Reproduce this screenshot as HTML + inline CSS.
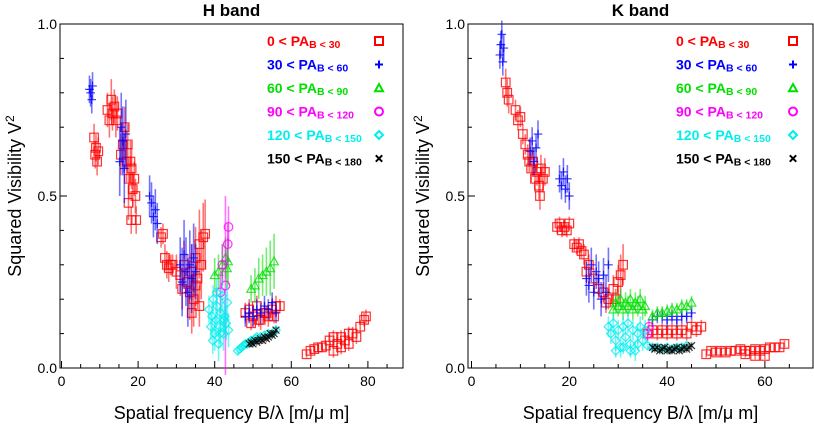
<!DOCTYPE html>
<html><head><meta charset="utf-8">
<style>
html,body{margin:0;padding:0;background:#fff;}
svg{display:block;font-family:"Liberation Sans",sans-serif;}
</style></head>
<body>
<svg id="chart" width="814" height="429" viewBox="0 0 814 429" xmlns="http://www.w3.org/2000/svg"></svg>
<script>
// ---- Data (x = spatial frequency, y = V^2, e = error) ----
// H band
const hRedX=[8.5,8.8,9,9.3,9.6,12,12.5,13,13.3,13.8,14.2,14.6,15.5,16,16.5,17,17.3,17.6,18,18.3,18.6,19,19.3,17.5,18.2,19.5,26,26.5,27,27.5,28,28.5,29,30,31,31.5,32,33,33.5,34,34.5,35,35.5,36,36.5,37,37.5,34,35,36,48,49,50,51,52,53,54,55,56,57,49.5,51.5,53.5,55.5,64,65,66,67,68,69,70,71,72,73,74,75,76,77,78,79,79.5,71,73,75];
const hRedY=[0.67,0.62,0.64,0.6,0.63,0.75,0.72,0.78,0.74,0.76,0.72,0.74,0.62,0.65,0.7,0.6,0.65,0.55,0.6,0.58,0.52,0.55,0.5,0.48,0.43,0.43,0.38,0.39,0.32,0.3,0.29,0.3,0.3,0.28,0.27,0.23,0.3,0.25,0.22,0.28,0.2,0.32,0.26,0.36,0.3,0.38,0.39,0.16,0.24,0.18,0.16,0.17,0.15,0.18,0.14,0.16,0.15,0.17,0.18,0.18,0.13,0.14,0.16,0.15,0.04,0.05,0.055,0.06,0.06,0.065,0.08,0.09,0.07,0.09,0.08,0.1,0.1,0.09,0.12,0.14,0.15,0.05,0.06,0.07];
const hRedE=[0.04,0.04,0.04,0.04,0.04,0.05,0.05,0.06,0.05,0.05,0.05,0.05,0.06,0.06,0.06,0.06,0.06,0.06,0.06,0.06,0.05,0.05,0.05,0.05,0.04,0.04,0.03,0.03,0.04,0.04,0.04,0.03,0.03,0.05,0.06,0.06,0.07,0.08,0.08,0.08,0.08,0.09,0.09,0.1,0.1,0.1,0.1,0.06,0.06,0.06,0.03,0.03,0.03,0.03,0.03,0.03,0.03,0.03,0.03,0.02,0.02,0.02,0.02,0.02,0.01,0.01,0.01,0.01,0.01,0.015,0.02,0.02,0.02,0.02,0.02,0.02,0.02,0.02,0.02,0.02,0.02,0.02,0.02,0.02];
const hBlueX=[7.3,7.6,7.9,8.1,15.2,15.6,16,16.4,16.8,23,23.5,24,24.5,25,31,31.5,32,32.5,33,33.5,34,34.5,35,48,49,50,51,52,53,54,55,56];
const hBlueY=[0.81,0.8,0.78,0.82,0.6,0.7,0.66,0.58,0.68,0.5,0.48,0.44,0.46,0.42,0.3,0.25,0.33,0.28,0.22,0.3,0.26,0.32,0.28,0.15,0.16,0.15,0.17,0.16,0.18,0.17,0.19,0.16];
const hBlueE=[0.04,0.04,0.04,0.04,0.1,0.1,0.1,0.1,0.1,0.06,0.06,0.06,0.06,0.06,0.08,0.1,0.1,0.1,0.1,0.1,0.1,0.1,0.08,0.03,0.03,0.03,0.03,0.03,0.03,0.03,0.03,0.03];
const hGreenX=[40,41,42,42.8,43.2,43.5,49.5,50.5,51.5,52.5,53.5,54.5,55.5];
const hGreenY=[0.27,0.28,0.3,0.32,0.29,0.31,0.23,0.24,0.26,0.27,0.28,0.29,0.31];
const hGreenE=[0.05,0.05,0.06,0.06,0.06,0.07,0.04,0.05,0.06,0.06,0.07,0.08,0.08];
const hMagX=[41.5,42,42.8,43.4,43.6];
const hMagY=[0.22,0.3,0.24,0.36,0.41];
const hMagE=[0.06,0.06,0.26,0.06,0.06];
const hCyanX=[38.5,39,39.3,39.6,40,40.3,40.6,41,41.3,41.6,42,42.3,42.6,43,43.3,43.6,39.5,40.5,41.5,42.5,46,46.5,47,47.5,48,48.5,49,49.5,50,50.5,51,52,53,54,55,56];
const hCyanY=[0.17,0.12,0.15,0.2,0.1,0.14,0.18,0.07,0.12,0.16,0.21,0.1,0.15,0.13,0.19,0.11,0.08,0.22,0.1,0.14,0.05,0.055,0.06,0.065,0.07,0.07,0.075,0.08,0.08,0.085,0.09,0.09,0.095,0.1,0.1,0.11];
const hCyanE=[0.04,0.04,0.04,0.04,0.05,0.05,0.05,0.05,0.05,0.05,0.05,0.05,0.05,0.05,0.05,0.05,0.04,0.04,0.04,0.04,0.01,0.01,0.01,0.01,0.01,0.01,0.01,0.01,0.01,0.01,0.01,0.01,0.01,0.01,0.01,0.01];
const hBlackX=[49,49.5,50,50.5,51,51.5,52,52.5,53,53.5,54,54.5,55,55.5,56];
const hBlackY=[0.07,0.075,0.07,0.08,0.075,0.08,0.085,0.08,0.09,0.085,0.09,0.1,0.095,0.1,0.11];
const hBlackE=[0.01,0.01,0.01,0.01,0.01,0.01,0.01,0.01,0.01,0.01,0.01,0.01,0.01,0.01,0.01];
// K band
const kRedX=[7,7.3,7.6,9,9.5,10,10.5,11,11.5,11.8,12.2,12.6,13,13.4,13.8,14.2,14.6,15,14,17.5,18,18.5,19,19.5,20,21,21.5,22,22.5,23,23.5,24,25,26,27,28,29,30,30.5,31,27.5,29.5,36,37,38,39,40,41,42,43,44,45,46,47,48,49,50,51,52,53,54,55,56,57,58,59,60,61,62,63,64,56,58,60];
const kRedY=[0.83,0.8,0.78,0.75,0.72,0.73,0.68,0.65,0.62,0.6,0.58,0.6,0.55,0.57,0.53,0.58,0.55,0.57,0.5,0.41,0.42,0.4,0.41,0.4,0.42,0.36,0.35,0.36,0.34,0.33,0.28,0.3,0.26,0.23,0.22,0.2,0.23,0.25,0.27,0.3,0.19,0.2,0.1,0.11,0.1,0.11,0.1,0.11,0.1,0.11,0.1,0.12,0.11,0.12,0.04,0.05,0.045,0.05,0.045,0.05,0.05,0.055,0.05,0.05,0.055,0.05,0.055,0.06,0.06,0.06,0.07,0.04,0.035,0.035];
const kRedE=[0.04,0.04,0.04,0.03,0.03,0.03,0.03,0.03,0.03,0.03,0.04,0.04,0.04,0.04,0.04,0.04,0.04,0.04,0.04,0.02,0.02,0.02,0.02,0.02,0.02,0.02,0.02,0.02,0.02,0.03,0.03,0.03,0.03,0.03,0.03,0.03,0.04,0.05,0.06,0.06,0.03,0.03,0.02,0.02,0.02,0.02,0.02,0.02,0.02,0.02,0.02,0.02,0.02,0.02,0.01,0.01,0.01,0.01,0.01,0.01,0.01,0.01,0.01,0.01,0.01,0.01,0.01,0.01,0.01,0.01,0.01,0.01,0.01,0.01];
const kBlueX=[5.8,6,6.2,6.4,6.6,12,12.4,12.8,13.2,13.6,18,18.4,18.8,19.2,19.6,20,23.5,24,24.5,25,25.5,26,26.5,27,27.5,28,37,38,39,40,41,42,43,44,45];
const kBlueY=[0.91,0.94,0.97,0.89,0.93,0.63,0.66,0.6,0.64,0.68,0.55,0.53,0.57,0.52,0.55,0.5,0.26,0.24,0.3,0.22,0.28,0.26,0.2,0.27,0.22,0.3,0.14,0.15,0.15,0.14,0.15,0.14,0.15,0.15,0.16];
const kBlueE=[0.04,0.04,0.04,0.04,0.04,0.04,0.04,0.04,0.04,0.04,0.04,0.04,0.04,0.04,0.04,0.04,0.05,0.05,0.05,0.05,0.05,0.05,0.05,0.05,0.05,0.05,0.02,0.02,0.02,0.02,0.02,0.02,0.02,0.02,0.02];
const kGreenX=[29,29.5,30,30.5,31,31.5,32,32.5,33,33.5,34,34.5,35,35.5,37,38,39,40,41,42,43,44,45];
const kGreenY=[0.17,0.19,0.18,0.2,0.17,0.19,0.18,0.2,0.17,0.19,0.18,0.2,0.17,0.18,0.15,0.16,0.16,0.165,0.17,0.17,0.18,0.18,0.19];
const kGreenE=[0.03,0.03,0.03,0.03,0.03,0.03,0.03,0.03,0.03,0.03,0.03,0.03,0.03,0.03,0.02,0.02,0.02,0.02,0.02,0.02,0.02,0.02,0.02];
const kMagX=[36,36.3];
const kMagY=[0.1,0.12];
const kMagE=[0.02,0.02];
const kCyanX=[28,28.5,29,29.5,30,30.5,31,31.5,32,32.5,33,33.5,34,34.5,35,35.5,29.5,31,32.5,34,36,37,38,39,40,41,42,43,44];
const kCyanY=[0.12,0.1,0.13,0.08,0.11,0.06,0.12,0.09,0.13,0.07,0.11,0.05,0.1,0.12,0.08,0.11,0.05,0.06,0.05,0.07,0.065,0.06,0.06,0.055,0.06,0.055,0.06,0.06,0.065];
const kCyanE=[0.03,0.03,0.03,0.03,0.03,0.03,0.03,0.03,0.03,0.03,0.03,0.03,0.03,0.03,0.03,0.03,0.02,0.02,0.02,0.02,0.01,0.01,0.01,0.01,0.01,0.01,0.01,0.01,0.01];
const kBlackX=[37,37.5,38,38.5,39,39.5,40,40.5,41,41.5,42,42.5,43,43.5,44,44.5,45];
const kBlackY=[0.06,0.055,0.06,0.05,0.055,0.06,0.05,0.055,0.05,0.055,0.06,0.05,0.055,0.06,0.055,0.06,0.065];
const kBlackE=[0.01,0.01,0.01,0.01,0.01,0.01,0.01,0.01,0.01,0.01,0.01,0.01,0.01,0.01,0.01,0.01,0.01];
const xTicksH=[0,20,40,60,80];
const xTicksK=[0,20,40,60];
const yTicks=[0.0,0.5,1.0];
const legendLabels=[["0 < PA","B < 30"],["30 < PA","B < 60"],["60 < PA","B < 90"],["90 < PA","B < 120"],["120 < PA","B < 150"],["150 < PA","B < 180"]];

const NS="http://www.w3.org/2000/svg";
const svg=document.getElementById('chart');
function mk(tag,attrs,parent){const e=document.createElementNS(NS,tag);for(const k in attrs)e.setAttribute(k,attrs[k]);(parent||svg).appendChild(e);return e;}
const colors=['#ff0000','#0000ff','#00e000','#ff00ff','#00eeee','#000000'];
const shapes=['square','plus','triangle','circle','diamond','cross'];

function marker(g,shape,cx,cy,c,s,w){
  let e;
  if(shape==='square') e=mk('rect',{x:cx-s,y:cy-s,width:2*s,height:2*s,fill:'none',stroke:c,'stroke-width':w},g);
  else if(shape==='plus') e=mk('path',{d:`M${cx-s} ${cy}H${cx+s}M${cx} ${cy-s}V${cy+s}`,stroke:c,'stroke-width':w},g);
  else if(shape==='triangle') e=mk('path',{d:`M${cx} ${cy-s}L${cx+s} ${cy+s*0.8}L${cx-s} ${cy+s*0.8}Z`,fill:'none',stroke:c,'stroke-width':w},g);
  else if(shape==='circle') e=mk('circle',{cx:cx,cy:cy,r:s,fill:'none',stroke:c,'stroke-width':w},g);
  else if(shape==='diamond') e=mk('path',{d:`M${cx} ${cy-s}L${cx+s} ${cy}L${cx} ${cy+s}L${cx-s} ${cy}Z`,fill:'none',stroke:c,'stroke-width':w},g);
  else e=mk('path',{d:`M${cx-s*0.8} ${cy-s*0.8}L${cx+s*0.8} ${cy+s*0.8}M${cx+s*0.8} ${cy-s*0.8}L${cx-s*0.8} ${cy+s*0.8}`,stroke:c,'stroke-width':w},g);
  return e;
}

function panel(cfg){
  const g=mk('g',{});
  
  
  const top=24,bot=368;
  const sx=v=>cfg.x0+v*cfg.k;
  const sy=v=>bot-v*(bot-top);
  const t=mk('text',{x:(cfg.left+cfg.right)/2,y:16,'text-anchor':'middle','font-size':17,'font-weight':'bold',fill:'#000'},g);
  t.textContent=cfg.title;
  
  
  const fr=mk('rect',{x:cfg.left,y:top,width:cfg.right-cfg.left,height:bot-top,fill:'none',stroke:'#000','stroke-width':1},g);
  
  
  for(let i=0;i<=10;i++){const y=sy(i/10);const L=(i%5===0)?7:4;
    mk('line',{x1:cfg.left,x2:cfg.left+L,y1:y,y2:y,stroke:'#000'},g);}
  yTicks.forEach(v=>{const tx=mk('text',{x:cfg.left-3,y:sy(v)+5,'text-anchor':'end','font-size':14,fill:'#000'},g);
    tx.textContent=v.toFixed(1);
    
    });
  for(let v=0;sx(v)<cfg.right;v+=5){const x=sx(v);const L=(v%20===0)?7:4;
    mk('line',{x1:x,x2:x,y1:bot,y2:bot-L,stroke:'#000'},g);}
  cfg.xt.forEach(v=>{const tx=mk('text',{x:sx(v),y:386,'text-anchor':'middle','font-size':14,fill:'#000'},g);
    tx.textContent=String(v);
    
    });
  const xt=mk('text',{x:(cfg.left+cfg.right)/2,y:419,'text-anchor':'middle','font-size':18,fill:'#000'},g);
  xt.textContent='Spatial frequency B/λ [m/μ m]';
  
  
  const yx=cfg.left-39;
  const yt=mk('text',{x:yx,y:196,'text-anchor':'middle','font-size':18,fill:'#000',transform:`rotate(-90 ${yx} 196)`},g);
  yt.innerHTML='Squared Visibility V<tspan dy="-7" font-size="12">2</tspan>';
  
  
  cfg.series.forEach((s,si)=>{
    const sg=mk('g',{},g);
    
    
    s[0].forEach((xv,i)=>{
      const cx=sx(xv),cy=sy(s[1][i]),e=s[2][i]*(bot-top);
      mk('line',{x1:cx,x2:cx,y1:cy-e,y2:cy+e,stroke:colors[si],'stroke-width':1.6,'stroke-opacity':0.55},sg);
      const m=marker(sg,shapes[si],cx,cy,colors[si],4.3,1.2);
      m.setAttribute('stroke-opacity','0.8');
      
      
    });
  });
  const lg=mk('g',{},g);
  
  
  legendLabels.forEach((lab,i)=>{
    const y=46+i*23.5;
    const tx=mk('text',{x:cfg.legX,y:y,'font-size':14,'font-weight':'bold',fill:colors[i]},lg);
    tx.innerHTML=lab[0]+'<tspan dy="2" font-size="10.5">'+lab[1]+'</tspan>';
    
    
    const m=marker(lg,shapes[i],cfg.legM,y-5,colors[i],4,2);
    
    
  });
}
panel({name:'h-band-panel',title:'H band',left:60,right:403,x0:61.5,k:3.83,xt:xTicksH,legX:267,legM:379,
  series:[[hRedX,hRedY,hRedE],[hBlueX,hBlueY,hBlueE],[hGreenX,hGreenY,hGreenE],[hMagX,hMagY,hMagE],[hCyanX,hCyanY,hCyanE],[hBlackX,hBlackY,hBlackE]]});
panel({name:'k-band-panel',title:'K band',left:468,right:813,x0:471.5,k:4.89,xt:xTicksK,legX:676,legM:793,
  series:[[kRedX,kRedY,kRedE],[kBlueX,kBlueY,kBlueE],[kGreenX,kGreenY,kGreenE],[kMagX,kMagY,kMagE],[kCyanX,kCyanY,kCyanE],[kBlackX,kBlackY,kBlackE]]});
</script>
</body></html>
